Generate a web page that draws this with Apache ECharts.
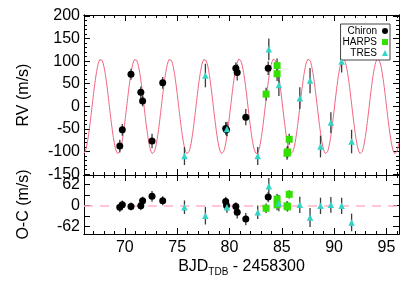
<!DOCTYPE html>
<html>
<head>
<meta charset="utf-8">
<script src="https://cdn.jsdelivr.net/npm/echarts@6/dist/echarts.min.js"></script>
<style>html,body{margin:0;padding:0;background:#fff}#c{width:416px;height:290px}</style>
</head>
<body>
<div id="c"></div>
<script>
// ---- data ----
const tMin = 66.1, tMax = 96.2;
const periodDays = 3.31, amplitude = 105, epochPeak = 67.7, systemicRV = 0;

const chironT   = [69.52, 69.76, 70.59, 71.53, 71.70, 72.60, 73.62, 79.64, 79.72, 80.61, 80.74, 81.56, 83.70];
const chironRV  = [-88, -52, 71, 31, 12, -77, 52, -49, -52, 84, 75, -24, 84];
const chironOC  = [-5, 2, -3, -1, 14, 27, 14, 12, 0, -3, -20, -40, 25];
const chironErr = [14, 13, 12, 13, 12, 16, 13, 14, 14, 13, 18, 18, 15];

const harpsT   = [83.50, 84.55, 84.55, 85.50, 85.55, 85.71];
const harpsRV  = [27, 90, 72, -104, -101, -73];
const harpsOC  = [-8, 19, 2, -1, -4, 33];
const harpsErr = [14, 16, 16, 14, 14, 12];

const tresT   = [75.70, 77.70, 79.76, 82.70, 83.76, 84.72, 86.72, 87.70, 88.70, 89.69, 90.72, 91.67];
const tresRV  = [-110, 68, -50, -110, 126, 47, 18, 57, -89, -36, 99, -78];
const tresOC  = [-5, -30, -5, -20, 57, 7, 2, -35, -1, 2, -1, -50];
const tresErr = [20, 26, 16, 20, 24, 24, 24, 28, 24, 23, 24, 26];

const xMajor = [70, 75, 80, 85, 90, 95];
const xMinor = [67,68,69,71,72,73,74,76,77,78,79,81,82,83,84,86,87,88,89,91,92,93,94,96];
const rvMajor = [-150, -100, -50, 0, 50, 100, 150, 200];
const rvMinor = [-140,-130,-120,-110,-90,-80,-70,-60,-40,-30,-20,-10,10,20,30,40,60,70,80,90,110,120,130,140,160,170,180,190];
const ocTicks = [-62, -31, 0, 31, 62];
const ocLabels = [-62, 0, 62];

// ---- chart ----
const FONT = "'Liberation Sans', Arial, Helvetica, sans-serif";
const rvRange = [-152, 202], ocRange = [-84, 90];

function axisBase(extra) {
  return Object.assign({
    type: 'value',
    axisLine: {show: true, onZero: false, lineStyle: {color: '#000', width: 1}},
    splitLine: {show: false},
    axisLabel: {show: false},
    axisTick: {show: true},
  }, extra);
}
function tick(vals, len) {
  return {show: true, inside: true, length: len, customValues: vals, lineStyle: {color: '#000', width: 1}};
}

const xAxes = [], yAxes = [];
// main axes
xAxes.push(axisBase({gridIndex: 0, position: 'bottom', min: tMin, max: tMax, axisTick: tick(xMajor, 6)}));
xAxes.push(axisBase({gridIndex: 1, position: 'bottom', min: tMin, max: tMax, axisTick: tick(xMajor, 6),
  axisLabel: {show: true, customValues: xMajor, fontSize: 16, fontFamily: FONT, color: '#000', margin: 6},
  name: 'BJD{sub|TDB} - 2458300', nameLocation: 'middle', nameGap: 23,
  nameTextStyle: {fontSize: 16, fontFamily: FONT, color: '#000',
    rich: {sub: {fontSize: 10, fontFamily: FONT, color: '#000', verticalAlign: 'bottom', padding: [10, 0, 0, 0]}}}}));
yAxes.push(axisBase({gridIndex: 0, position: 'left', min: rvRange[0], max: rvRange[1], axisTick: tick(rvMajor, 6),
  axisLabel: {show: true, customValues: rvMajor, fontSize: 16, fontFamily: FONT, color: '#000', margin: 4},
  name: 'RV (m/s)', nameLocation: 'middle', nameRotate: 90, nameGap: 52,
  nameTextStyle: {fontSize: 16, fontFamily: FONT, color: '#000'}}));
yAxes.push(axisBase({gridIndex: 1, position: 'left', min: ocRange[0], max: ocRange[1], axisTick: tick(ocTicks, 6),
  axisLabel: {show: true, customValues: ocLabels, fontSize: 16, fontFamily: FONT, color: '#000', margin: 4},
  name: 'O-C (m/s)', nameLocation: 'middle', nameRotate: 90, nameGap: 52,
  nameTextStyle: {fontSize: 16, fontFamily: FONT, color: '#000'}}));
// decorative frame ticks
[0, 1].forEach(g => {
  xAxes.push(axisBase({gridIndex: g, position: 'bottom', min: tMin, max: tMax, axisTick: tick(xMinor, 3)}));
  xAxes.push(axisBase({gridIndex: g, position: 'top', min: tMin, max: tMax, axisTick: tick(xMajor, 6)}));
  xAxes.push(axisBase({gridIndex: g, position: 'top', min: tMin, max: tMax, axisTick: tick(xMinor, 3)}));
});
yAxes.push(axisBase({gridIndex: 0, position: 'left', min: rvRange[0], max: rvRange[1], axisTick: tick(rvMinor, 3)}));
yAxes.push(axisBase({gridIndex: 0, position: 'right', min: rvRange[0], max: rvRange[1], axisTick: tick(rvMajor, 6)}));
yAxes.push(axisBase({gridIndex: 0, position: 'right', min: rvRange[0], max: rvRange[1], axisTick: tick(rvMinor, 3)}));
yAxes.push(axisBase({gridIndex: 1, position: 'right', min: ocRange[0], max: ocRange[1], axisTick: tick(ocTicks, 6)}));

// model curve
const curve = [];
const N = 900;
for (let i = 0; i <= N; i++) {
  const t = tMin + (tMax - tMin) * i / N;
  curve.push([t, systemicRV + amplitude * Math.cos(2 * Math.PI * (t - epochPeak) / periodDays)]);
}

const COLORS = {Chiron: '#000000', HARPS: '#33e000', TRES: '#33d6c6'};
const SYMB = {Chiron: 'circle', HARPS: 'rect', TRES: 'triangle'};
const SIZE = {Chiron: 7, HARPS: 7, TRES: 6.5};

function pts(ts, vs) { return ts.map((t, i) => [t, vs[i]]); }
function errData(ts, vs, es) { return ts.map((t, i) => [t, vs[i] - es[i], vs[i] + es[i]]); }
function errSeries(ts, vs, es, panel) {
  return {
    type: 'custom', xAxisIndex: panel, yAxisIndex: panel, silent: true, z: 3,
    renderItem: (params, api) => {
      const p1 = api.coord([api.value(0), api.value(1)]);
      const p2 = api.coord([api.value(0), api.value(2)]);
      return {type: 'line', shape: {x1: p1[0], y1: p1[1], x2: p2[0], y2: p2[1]},
        style: {stroke: '#3c3c3c', lineWidth: 1.3}};
    },
    encode: {x: 0, y: [1, 2]},
    data: errData(ts, vs, es)
  };
}
function scatter(name, ts, vs, panel) {
  return {
    name, type: 'scatter', xAxisIndex: panel, yAxisIndex: panel, z: 5,
    symbol: SYMB[name], symbolSize: SIZE[name],
    itemStyle: {color: COLORS[name], opacity: 1},
    data: pts(ts, vs)
  };
}

const instruments = [
  ['Chiron', chironT, chironRV, chironOC, chironErr],
  ['HARPS', harpsT, harpsRV, harpsOC, harpsErr],
  ['TRES', tresT, tresRV, tresOC, tresErr]
];

const series = [];
instruments.forEach(([n, t, rv, oc, e]) => {
  series.push(scatter(n, t, rv, 0));
  series.push(scatter(n, t, oc, 1));
});
instruments.forEach(([n, t, rv, oc, e]) => {
  series.push(errSeries(t, rv, e, 0));
  series.push(errSeries(t, oc, e, 1));
});
series.push({
  type: 'line', xAxisIndex: 0, yAxisIndex: 0, data: curve, showSymbol: false, silent: true, z: 1,
  lineStyle: {color: '#f2647f', width: 1}
});
series.push({
  type: 'line', xAxisIndex: 1, yAxisIndex: 1, data: [], silent: true, z: 1,
  markLine: {silent: true, symbol: 'none', label: {show: false},
    lineStyle: {color: '#ffb3c4', width: 1.6, type: [9, 7]},
    data: [{yAxis: 0}]}
});

const chart = echarts.init(document.getElementById('c'), null, {renderer: 'canvas'});
chart.setOption({
  animation: false,
  backgroundColor: '#fff',
  grid: [
    {left: 84, right: 17, top: 15, height: 160},
    {left: 84, right: 17, top: 175, height: 59}
  ],
  xAxis: xAxes,
  yAxis: yAxes,
  legend: {
    data: [{name: 'Chiron', icon: 'circle'}, {name: 'HARPS', icon: 'rect'}, {name: 'TRES', icon: 'triangle'}],
    orient: 'vertical', align: 'right', right: 26, top: 24,
    itemWidth: 6, itemHeight: 6, itemGap: 1, itemTextGap: 3,
    padding: [2, 2, 2, 2], borderColor: '#444', borderWidth: 1, backgroundColor: '#fff',
    textStyle: {fontSize: 10, fontFamily: FONT, color: '#000', width: 33, align: 'right', lineHeight: 9},
    selectedMode: false
  },
  series
});
</script>
</body>
</html>
